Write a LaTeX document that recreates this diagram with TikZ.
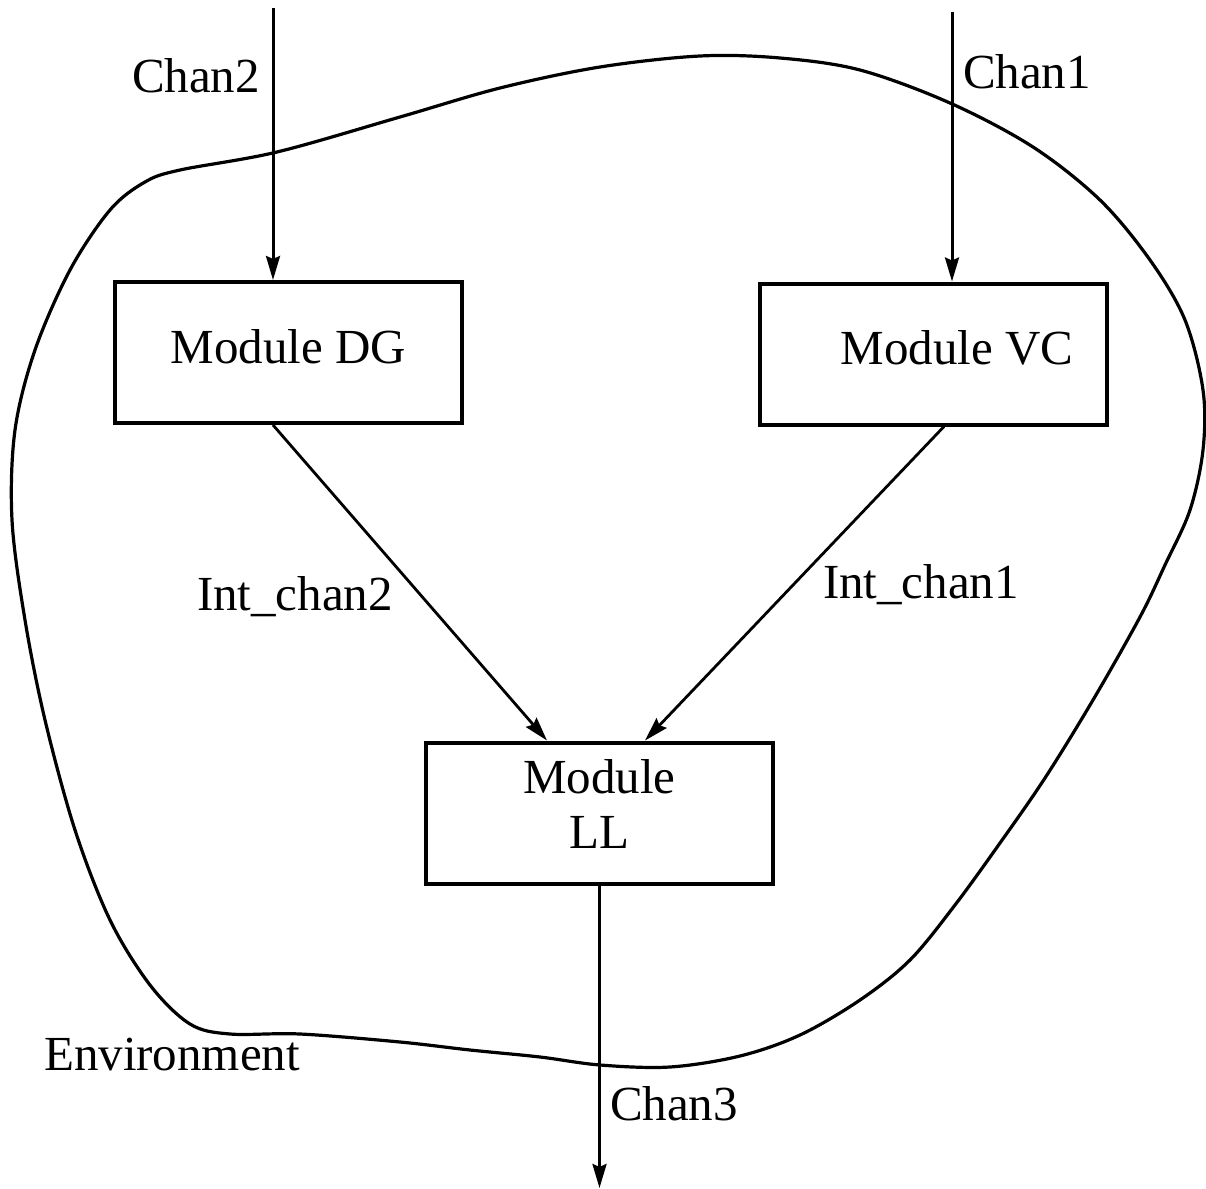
\documentclass[tikz,border=0pt]{standalone}
\usepackage{fontspec}
\setmainfont{Liberation Serif}
\usetikzlibrary{arrows.meta,calc}
\begin{document}
\begin{tikzpicture}[x=0.5pt,y=-0.5pt,
  lbl/.style={inner sep=0pt,anchor=base,font=\fontsize{24.5pt}{27.5pt}\selectfont},
  modbox/.style={draw,line width=2pt,minimum width=173.5pt,minimum height=70.5pt,inner sep=0pt,align=center,font=\fontsize{24.5pt}{27.5pt}\selectfont},
  arr/.style={line width=1.5pt,-{Stealth[length=12pt,width=7pt,inset=1.5pt]}},
  darr/.style={line width=1.4pt,-{Stealth[length=12pt,width=7pt,inset=1.5pt]}},
  blob/.style={line width=1.6pt}]
\useasboundingbox (0,0) rectangle (1206,1189);

% environment outline
\draw[blob] plot[smooth cycle, tension=0.55] coordinates {
 (180,170) (277,152) (400,117) (500,88) (600,67) (700,56) (780,58) (860,70)
 (950,103) (1033,147) (1100,200) (1150,260) (1185,320) (1203,390) (1203,450)
 (1190,510) (1165,565) (1140,617) (1093,700) (1045,778) (1000,843) (955,905)
 (910,960) (860,1000) (800,1035) (740,1056) (670,1067) (600,1065) (540,1057)
 (470,1050) (400,1042) (300,1034) (230,1034) (190,1024) (150,985) (110,920)
 (75,830) (45,720) (25,620) (12,520) (15,430) (35,350) (70,270) (110,210)
 (145,182)};

% modules
\node[modbox,text depth=6.5pt] (dg) at (288.5,352.5) {Module DG};
\node[modbox,text depth=7pt] (vc) at (933.5,354) {\hspace*{23.5pt}Module VC};
\node[modbox,text depth=9pt] (ll) at (599.5,813) {Module\\LL};

% free ends
\coordinate (c2s) at (273,8);
\coordinate (c1s) at (952,12);
\coordinate (c3e) at (599.5,1188);

% connectors
\draw[arr] (c2s) -- (c2s |- dg.north);
\draw[arr] (c1s) -- (c1s |- vc.north);
\draw[darr] (c2s |- dg.south) -- ([xshift=61.5pt]ll.north west);
\draw[darr] ([xshift=93pt]vc.south west) -- ([xshift=110.5pt]ll.north west);
\draw[arr] (ll.south) -- (c3e);

% labels
\node[lbl] (l2) at (196,92) {Chan2};
\node[lbl] (l1) at (1027,88) {Chan1};
\node[lbl] (li2) at (295,610) {Int\_chan2};
\node[lbl] (li1) at (921,598) {Int\_chan1};
\node[lbl] (lenv) at (172,1070) {Environment};
\node[lbl] (l3) at (674,1120) {Chan3};
\end{tikzpicture}
\end{document}
